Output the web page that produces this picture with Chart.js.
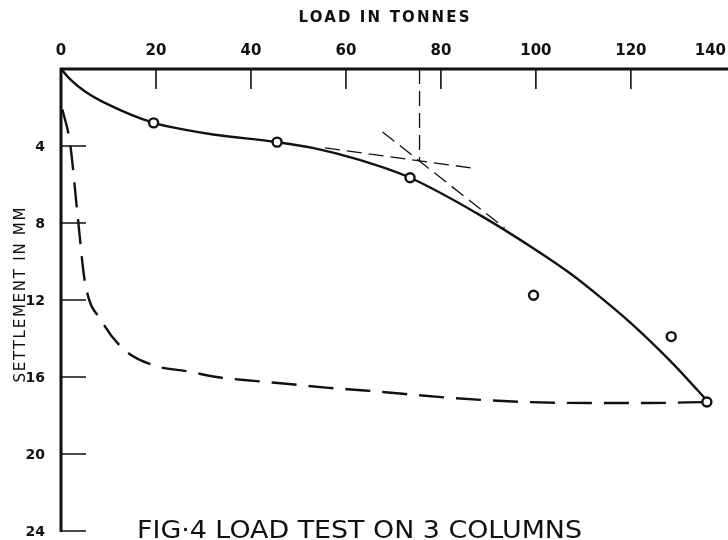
<!DOCTYPE html>
<html>
<head>
<meta charset="utf-8">
<title>Fig 4 - Load test on 3 columns</title>
<script src="https://cdn.jsdelivr.net/npm/chart.js@4.4.0/dist/chart.umd.min.js"></script>
<style>
  html, body { margin: 0; padding: 0; background: #fff; overflow: hidden; }
  canvas { display: block; }
</style>
</head>
<body>
<canvas id="chart" width="728" height="540"></canvas>
<script>
// tick labels
const loadTicks = [0, 20, 40, 60, 80, 100, 120, 140];
const settlementTicks = [4, 8, 12, 16, 20, 24];

// measured points (circles)
const testLoads = [19.5, 45.5, 73.5, 99.5, 128.5, 136];
const testSettlements = [2.8, 3.8, 5.65, 11.75, 13.9, 17.3];

// fitted load-settlement curve (solid)
const curveLoads = [0, 2, 5, 10, 19.5, 26, 32, 45.5, 53, 62.5, 73.5, 87.6, 100, 107.4, 113.3, 120, 125.8, 130, 136.3];
const curveSettlements = [0, 0.55, 1.15, 1.85, 2.8, 3.15, 3.4, 3.8, 4.1, 4.7, 5.65, 7.5, 9.4, 10.65, 11.8, 13.2, 14.55, 15.6, 17.3];

// second curve (long dashes)
const dashLoads = [0.3, 1.9, 3.6, 5.0, 8.6, 13.4, 19.6, 26.5, 32.8, 40.6, 47.4, 55.8, 64.0, 82.8, 98.0, 113.3, 123.7, 136];
const dashSettlements = [2.1, 3.85, 7.85, 11.0, 13.1, 14.6, 15.4, 15.7, 16.0, 16.2, 16.35, 16.55, 16.7, 17.1, 17.3, 17.35, 17.35, 17.3];

// construction lines
const flatTangentLoads = [55.6, 86.5];
const flatTangentSettlements = [4.1, 5.14];
const steepTangentLoads = [67.7, 93.4];
const steepTangentSettlements = [3.27, 8.26];
const yieldLoads = [75.5, 75.5];
const yieldSettlements = [0, 4.8];

const zip = (xs, ys) => xs.map((x, i) => ({ x: x, y: ys[i] }));

const INK = '#111';

function spacedText(ctx, text, cx, cy, width) {
    // draw text centred on cx, spread to the given width
    ctx.letterSpacing = '0px';
    const w0 = ctx.measureText(text).width;
    const ls = (width - w0) / Math.max(1, text.length - 1);
    ctx.letterSpacing = ls + 'px';
    ctx.textAlign = 'left';
    ctx.fillText(text, cx - width / 2, cy);
    ctx.letterSpacing = '0px';
}

const paperAxes = {
    id: 'paperAxes',
    afterDatasetsDraw(chart) {
        const ctx = chart.ctx;
        const xs = chart.scales.x;
        const ys = chart.scales.y;
        const x0 = xs.getPixelForValue(0);
        const y0 = ys.getPixelForValue(0);
        const yEnd = ys.getPixelForValue(24);

        ctx.save();
        ctx.strokeStyle = INK;
        ctx.fillStyle = INK;
        ctx.lineCap = 'butt';

        // axis lines
        ctx.lineWidth = 3;
        ctx.beginPath();
        ctx.moveTo(x0 - 1, y0);
        ctx.lineTo(chart.width, y0);
        ctx.moveTo(x0, y0 - 1);
        ctx.lineTo(x0, yEnd + 1);
        ctx.stroke();

        // tick marks, drawn inward
        ctx.lineWidth = 1.6;
        ctx.beginPath();
        loadTicks.forEach(v => {
            if (v === 0 || v === 140) return;
            const px = xs.getPixelForValue(v);
            ctx.moveTo(px, y0);
            ctx.lineTo(px, y0 + 20);
        });
        settlementTicks.forEach(v => {
            const py = ys.getPixelForValue(v);
            ctx.moveTo(x0, py);
            ctx.lineTo(x0 + 25, py);
        });
        ctx.stroke();

        // x tick labels
        ctx.font = 'bold 15px "DejaVu Sans"';
        ctx.textBaseline = 'middle';
        ctx.textAlign = 'center';
        loadTicks.forEach(v => {
            let px = xs.getPixelForValue(v);
            const w = ctx.measureText(String(v)).width;
            if (px + w / 2 > chart.width - 2) px = chart.width - 2 - w / 2;
            ctx.fillText(String(v), px, 51);
        });

        // y tick labels
        ctx.font = 'bold 14px "DejaVu Sans"';
        ctx.textAlign = 'right';
        settlementTicks.forEach(v => {
            ctx.fillText(String(v), 45, ys.getPixelForValue(v) + 1);
        });

        // axis titles
        ctx.font = 'bold 15px "DejaVu Sans"';
        ctx.textBaseline = 'middle';
        spacedText(ctx, 'LOAD IN TONNES', 384, 18, 171);

        ctx.save();
        ctx.translate(21, 295);
        ctx.rotate(-Math.PI / 2);
        ctx.font = '15px "DejaVu Sans"';
        spacedText(ctx, 'SETTLEMENT IN MM', 0, 0, 175);
        ctx.restore();

        // caption
        ctx.font = '24px "DejaVu Sans"';
        ctx.textBaseline = 'alphabetic';
        const cap = 'FIG·4 LOAD TEST ON 3 COLUMNS';
        const capW = ctx.measureText(cap).width;
        ctx.save();
        ctx.translate(137, 538);
        ctx.scale(445 / capW, 1);
        ctx.textAlign = 'left';
        ctx.fillText(cap, 0, 0);
        ctx.restore();

        ctx.restore();
    }
};

const dashedThin = {
    showLine: true,
    borderColor: INK,
    borderWidth: 1.3,
    borderDash: [15, 7],
    pointRadius: 0,
    tension: 0
};

new Chart(document.getElementById('chart'), {
    type: 'scatter',
    data: {
        datasets: [
            {
                label: 'Test readings',
                data: zip(testLoads, testSettlements),
                pointStyle: 'circle',
                pointRadius: 4.5,
                pointBorderWidth: 2.4,
                pointBackgroundColor: '#fff',
                pointBorderColor: INK,
                showLine: false
            },
            {
                label: 'Load-settlement curve',
                data: zip(curveLoads, curveSettlements),
                showLine: true,
                borderColor: INK,
                borderWidth: 2.4,
                pointRadius: 0,
                cubicInterpolationMode: 'monotone'
            },
            {
                label: 'Second curve',
                data: zip(dashLoads, dashSettlements),
                showLine: true,
                borderColor: INK,
                borderWidth: 2.4,
                borderDash: [25, 12],
                pointRadius: 0,
                cubicInterpolationMode: 'monotone'
            },
            Object.assign({ label: 'Tangent 1', data: zip(flatTangentLoads, flatTangentSettlements) }, dashedThin),
            Object.assign({ label: 'Tangent 2', data: zip(steepTangentLoads, steepTangentSettlements) }, dashedThin),
            Object.assign({ label: 'Yield load', data: zip(yieldLoads, yieldSettlements) }, dashedThin)
        ]
    },
    options: {
        responsive: false,
        animation: false,
        devicePixelRatio: 1,
        layout: {
            padding: { left: 61, top: 69, right: 2, bottom: 9 }
        },
        plugins: {
            legend: { display: false },
            tooltip: { enabled: false },
            title: { display: false }
        },
        scales: {
            x: {
                type: 'linear',
                min: 0,
                max: 139,
                display: false
            },
            y: {
                type: 'linear',
                min: 0,
                max: 24,
                reverse: true,
                display: false
            }
        }
    },
    plugins: [paperAxes]
});
</script>
</body>
</html>
